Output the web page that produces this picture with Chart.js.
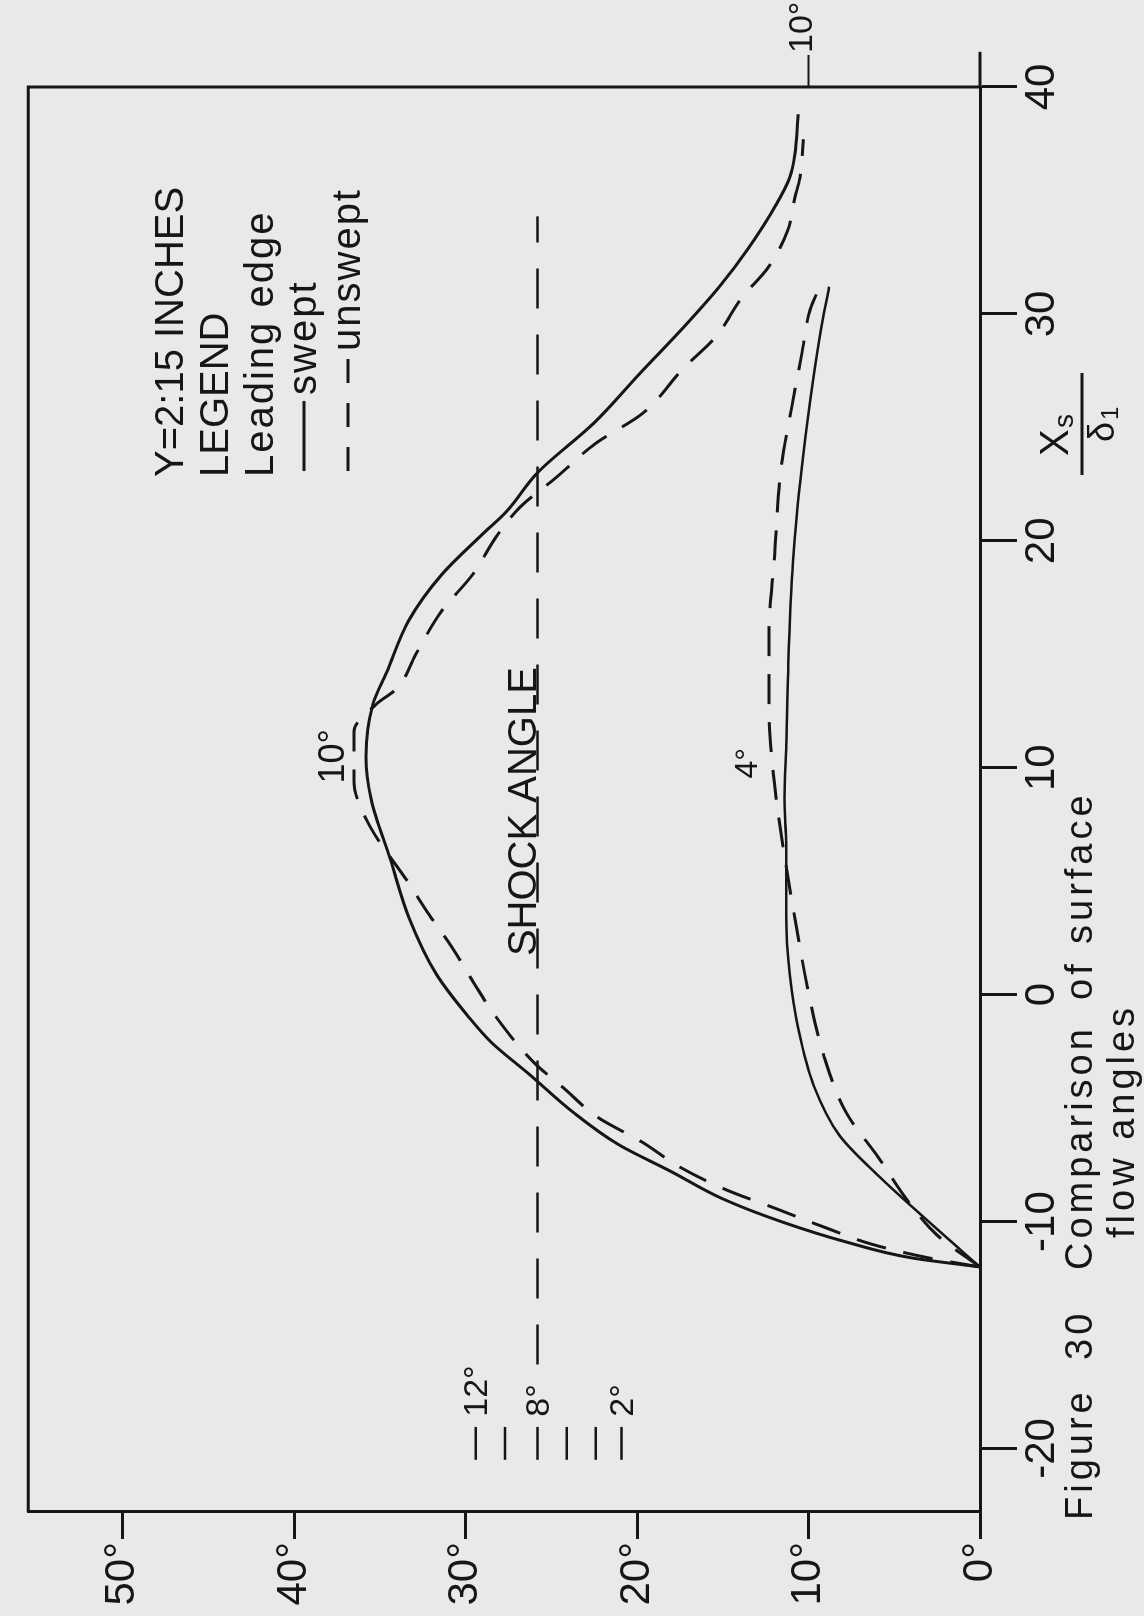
<!DOCTYPE html>
<html>
<head>
<meta charset="utf-8">
<title>Figure 30 - Comparison of surface flow angles</title>
<script src="https://cdn.jsdelivr.net/npm/chart.js@4.4.1/dist/chart.umd.min.js"></script>
<style>
  html, body { margin: 0; padding: 0; background: #e9e9e7; }
  body { width: 1144px; height: 1616px; overflow: hidden; position: relative; }
  /* the figure is drawn landscape and turned a quarter turn, like the scanned page */
  #wrap {
    position: absolute; left: 0; top: 0;
    width: 1616px; height: 1144px;
    transform-origin: 0 0;
    transform: translate(0, 1616px) rotate(-90deg);
  }
</style>
</head>
<body>
<div id="wrap"><canvas id="flowChart" width="1616" height="1144"></canvas></div>
<script>
// axis ticks
const xTicks = [-20, -10, 0, 10, 20, 30, 40];
const angleTicks = [0, 10, 20, 30, 40, 50];

// 10 deg wedge, swept leading edge (solid)
const sweptTenX = [-12.0, -11.6, -10.9, -10.0, -9.0, -7.8, -6.6, -5.2, -3.5, -2.1, -1.0, 0.9, 3.4, 6.0, 8.6, 10.5, 12.8, 14.2, 16.5, 18.5, 20.3, 21.3, 23.0, 25.2, 27.4, 29.4, 31.2, 32.9, 34.8, 36.0, 37.0, 38.8];
const sweptTenAngle = [0, 4.0, 7.8, 11.6, 15.0, 18.0, 21.1, 23.7, 26.3, 28.5, 29.8, 31.7, 33.3, 34.4, 35.5, 35.8, 35.4, 34.6, 33.3, 31.4, 29.0, 27.6, 25.8, 22.5, 19.8, 17.3, 15.2, 13.5, 11.9, 11.1, 10.8, 10.6];

// 10 deg wedge, unswept leading edge (dashed)
const unsweptTenX = [-12.0, -11.6, -11.0, -10.3, -9.4, -8.6, -7.6, -6.5, -5.4, -4.1, -3.0, -0.9, 0.5, 2.1, 3.5, 4.9, 7.6, 9.4, 11.6, 12.8, 13.5, 15.0, 16.9, 18.5, 20.3, 21.5, 22.8, 24.3, 25.6, 27.6, 29.0, 30.7, 32.1, 33.7, 35.1, 36.0, 37.7];
const unsweptTenAngle = [0, 3.0, 6.3, 8.9, 12.0, 14.8, 17.5, 19.7, 22.3, 24.3, 26.0, 28.3, 29.5, 30.8, 32.1, 33.3, 35.7, 36.5, 36.5, 35.2, 34.0, 32.9, 31.4, 29.6, 28.1, 26.8, 24.7, 22.4, 19.7, 17.3, 15.4, 13.9, 12.3, 11.2, 10.8, 10.5, 10.3];

// 4 deg wedge, swept (solid)
const sweptFourX = [-12.0, -10.0, -8.0, -6.2, -4.0, -1.5, 0.9, 3.5, 6.6, 8.6, 11.0, 14.0, 19.1, 23.2, 26.2, 29.2, 31.2];
const sweptFourAngle = [0, 3.0, 5.9, 8.2, 9.7, 10.6, 11.1, 11.3, 11.3, 11.4, 11.3, 11.2, 10.9, 10.4, 9.9, 9.3, 8.8];

// 4 deg wedge, unswept (dashed)
const unsweptFourX = [-12.0, -10.6, -9.0, -7.2, -5.2, -2.7, 0.1, 3.4, 6.6, 9.4, 12.4, 16.1, 19.1, 23.2, 25.8, 28.2, 30.2, 31.1];
const unsweptFourAngle = [0, 2.5, 4.3, 5.9, 7.8, 9.1, 10.0, 10.8, 11.5, 12.0, 12.3, 12.3, 12.0, 11.6, 11.0, 10.4, 9.9, 9.4];

// shock angle line and the little wedge-angle scale under it
const shockAngle = 25.8;
const shockX = [-16.3, 34.3];
const wedgeLabels = ['12°', '', '8°', '', '', '2°'];
const wedgeAngles = [29.4, 27.7, 25.8, 24.1, 22.4, 20.9];
const wedgeBarX = [-20.5, -19.05];

const INK = '#161616';
const FONT = '"Liberation Sans", Arial, sans-serif';

Chart.defaults.font.family = FONT;
Chart.defaults.color = INK;

const pts = (xs, ys) => xs.map((x, i) => ({ x: x, y: ys[i] }));

// bars of the wedge scale, separated by gaps
const wedgeBars = [];
wedgeAngles.forEach(a => {
    wedgeBars.push({ x: wedgeBarX[0], y: a }, { x: wedgeBarX[1], y: a }, { x: wedgeBarX[1] + 0.01, y: null });
});

function txt(ctx, s, x, y, size, align, base, spacing) {
    ctx.font = size + 'px ' + FONT;
    ctx.textAlign = align || 'left';
    ctx.textBaseline = base || 'alphabetic';
    ctx.letterSpacing = (spacing || 0) + 'px';
    ctx.fillText(s, x, y);
    ctx.letterSpacing = '0px';
}

// frame, extra marks and all the lettering on the sheet
const sheetText = {
    id: 'sheetText',
    afterDraw(chart) {
        const { ctx, chartArea: a, scales: { x, y } } = chart;
        ctx.save();
        ctx.strokeStyle = INK;
        ctx.fillStyle = INK;
        ctx.lineCap = 'butt';

        // remaining two sides of the box
        ctx.lineWidth = 3;
        ctx.beginPath();
        ctx.moveTo(a.left, a.top);
        ctx.lineTo(a.right, a.top);
        ctx.lineTo(a.right, a.bottom);
        ctx.stroke();
        // x axis runs on past the box
        ctx.beginPath();
        ctx.moveTo(a.right, a.bottom);
        ctx.lineTo(x.getPixelForValue(41.55), a.bottom);
        ctx.stroke();

        // 10 deg mark outside the far edge
        const y10 = y.getPixelForValue(10);
        ctx.lineWidth = 2;
        ctx.beginPath();
        ctx.moveTo(a.right, y10);
        ctx.lineTo(a.right + 32, y10);
        ctx.stroke();
        txt(ctx, '10°', a.right + 34, y10 - 6, 34, 'left', 'middle');

        // legend block
        const lx = 1139;
        txt(ctx, 'Y=2:15 INCHES', lx, 183, 40);
        txt(ctx, 'LEGEND', lx, 228, 40);
        txt(ctx, 'Leading edge', lx, 273, 40, 'left', 'alphabetic', 2);
        ctx.lineWidth = 3;
        ctx.beginPath();
        ctx.moveTo(lx + 6, 304);
        ctx.lineTo(lx + 76, 304);
        ctx.stroke();
        txt(ctx, 'swept', lx + 82, 316, 40, 'left', 'alphabetic', 2);
        ctx.setLineDash([24, 20]);
        ctx.beginPath();
        ctx.moveTo(lx + 6, 348);
        ctx.lineTo(lx + 122, 348);
        ctx.stroke();
        ctx.setLineDash([]);
        txt(ctx, 'unswept', lx + 126, 360, 40, 'left', 'alphabetic', 2);

        // curve and line labels
        txt(ctx, 'SHOCK ANGLE', x.getPixelForValue(1.7), y.getPixelForValue(shockAngle) - 2, 40);
        txt(ctx, '10°', x.getPixelForValue(10.5), y.getPixelForValue(37.1), 36, 'center');
        txt(ctx, '4°', x.getPixelForValue(10.2), y.getPixelForValue(13.0), 32, 'center');
        wedgeLabels.forEach((s, i) => {
            if (s) txt(ctx, s, x.getPixelForValue(-18.6), y.getPixelForValue(wedgeAngles[i]) + 2, 34, 'left', 'middle');
        });

        // axis title Xs / delta1
        txt(ctx, 'X', 1160, 1068, 40);
        txt(ctx, 's', 1188, 1073, 28);
        ctx.lineWidth = 3;
        ctx.beginPath();
        ctx.moveTo(1141, 1082);
        ctx.lineTo(1243, 1082);
        ctx.stroke();
        txt(ctx, 'δ', 1174, 1114, 36);
        txt(ctx, '1', 1196, 1118, 24);

        // caption, two lines
        txt(ctx, 'Figure', 96, 1092, 38, 'left', 'alphabetic', 4);
        txt(ctx, '30', 256, 1092, 38, 'left', 'alphabetic', 4);
        txt(ctx, 'Comparison', 346, 1092, 38, 'left', 'alphabetic', 4);
        txt(ctx, 'of', 616, 1092, 38, 'left', 'alphabetic', 4);
        txt(ctx, 'surface', 672, 1092, 38, 'left', 'alphabetic', 4);
        txt(ctx, 'flow angles', 378, 1134, 38, 'left', 'alphabetic', 4);

        ctx.restore();
    }
};

const lineSet = (label, data, dashed, width) => ({
    label: label,
    data: data,
    showLine: true,
    borderColor: INK,
    borderWidth: width || 3,
    borderDash: dashed ? [30, 18] : [],
    pointRadius: 0,
    cubicInterpolationMode: 'monotone',
    fill: false
});

new Chart(document.getElementById('flowChart'), {
    type: 'scatter',
    data: {
        datasets: [
            lineSet('swept 10°', pts(sweptTenX, sweptTenAngle), false),
            lineSet('unswept 10°', pts(unsweptTenX, unsweptTenAngle), true),
            lineSet('swept 4°', pts(sweptFourX, sweptFourAngle), false, 2.5),
            lineSet('unswept 4°', pts(unsweptFourX, unsweptFourAngle), true),
            Object.assign(lineSet('shock angle', shockX.map(v => ({ x: v, y: shockAngle })), false, 2.5),
                { borderDash: [40, 26], cubicInterpolationMode: 'default', tension: 0 }),
            Object.assign(lineSet('wedge scale', wedgeBars, false, 2.5),
                { cubicInterpolationMode: 'default', tension: 0, spanGaps: false })
        ]
    },
    options: {
        responsive: false,
        animation: false,
        events: [],
        layout: { padding: { left: 0, top: 8, right: 87, bottom: 0 } },
        plugins: {
            legend: { display: false },
            tooltip: { enabled: false },
            title: { display: false }
        },
        scales: {
            x: {
                type: 'linear',
                position: 'bottom',
                min: -22.8,
                max: 40,
                afterFit: s => { s.height = 164; },
                afterBuildTicks: s => { s.ticks = xTicks.map(v => ({ value: v })); },
                ticks: {
                    autoSkip: false,
                    maxRotation: 0,
                    padding: 0,
                    color: INK,
                    font: { size: 42 },
                    callback: v => String(v)
                },
                grid: {
                    drawOnChartArea: false,
                    drawTicks: true,
                    tickLength: 37,
                    tickColor: INK,
                    tickWidth: 3
                },
                border: { display: true, color: INK, width: 3 }
            },
            y: {
                type: 'linear',
                position: 'left',
                min: 0,
                max: 55.5,
                afterFit: s => { s.width = 104; },
                afterBuildTicks: s => { s.ticks = angleTicks.map(v => ({ value: v })); },
                ticks: {
                    autoSkip: false,
                    padding: 3,
                    color: INK,
                    font: { size: 42 },
                    callback: v => v + '°'
                },
                grid: {
                    drawOnChartArea: false,
                    drawTicks: true,
                    tickLength: 27,
                    tickColor: INK,
                    tickWidth: 3
                },
                border: { display: true, color: INK, width: 3 }
            }
        }
    },
    plugins: [sheetText]
});
</script>
</body>
</html>
